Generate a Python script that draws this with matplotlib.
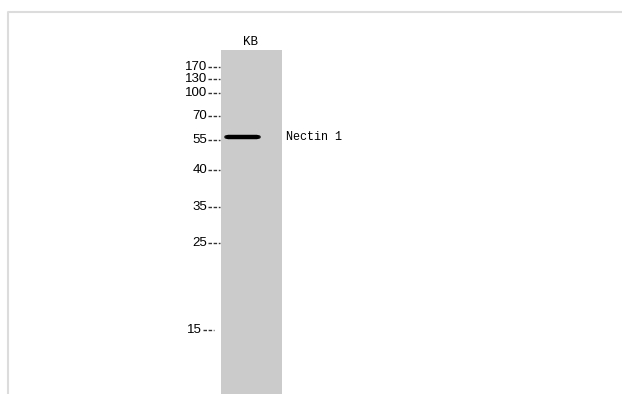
import matplotlib.pyplot as plt
from matplotlib.patches import Rectangle

# Маркеры молекулярной массы (кДа) и их положение на блоте (пиксели по вертикали)
marker_labels = ["170", "130", "100", "70", "55", "40", "35", "25", "15"]
marker_y = [67, 79, 93, 116, 140, 170, 207, 243, 330]

lane_name = "KB"
band_name = "Nectin 1"
band_y = 137

fig = plt.figure(figsize=(6.22, 3.94), dpi=100)
ax = fig.add_axes([0, 0, 1, 1])
ax.set_xlim(0, 622)
ax.set_ylim(394, 0)
ax.axis("off")

# светло-серая рамка
ax.plot([7.5, 7.5, 622], [394, 11.5, 11.5], color="#dcdcdc", lw=1.5)

# дорожка
ax.add_patch(Rectangle((221, 50), 61, 344, facecolor="#cbcbcb", edgecolor="none"))
ax.text(251, 48, lane_name, ha="center", va="bottom", fontsize=9,
        family=["Liberation Mono", "DejaVu Sans Mono"])

# полоса белка
ax.plot([226, 259], [band_y, band_y], color="#111111", lw=2.6,
        solid_capstyle="round")
ax.plot([228, 257], [band_y, band_y], color="#000000", lw=3.2,
        solid_capstyle="round")
ax.text(286, band_y, band_name, ha="left", va="center", fontsize=8.5,
        family=["Liberation Mono", "DejaVu Sans Mono"])

# подписи маркеров
for lab, y in zip(marker_labels, marker_y):
    right = 207 if lab != "15" else 202
    ax.text(right, y, lab, ha="right", va="center", fontsize=9.5,
            family=["Liberation Sans Narrow", "Liberation Sans", "DejaVu Sans"])
    ax.plot([right + 1, right + 13 if lab != "15" else right + 12], [y, y],
            color="#333333", lw=1.0, dashes=(2.5, 1.2))

fig.savefig("out.png", dpi=100)
